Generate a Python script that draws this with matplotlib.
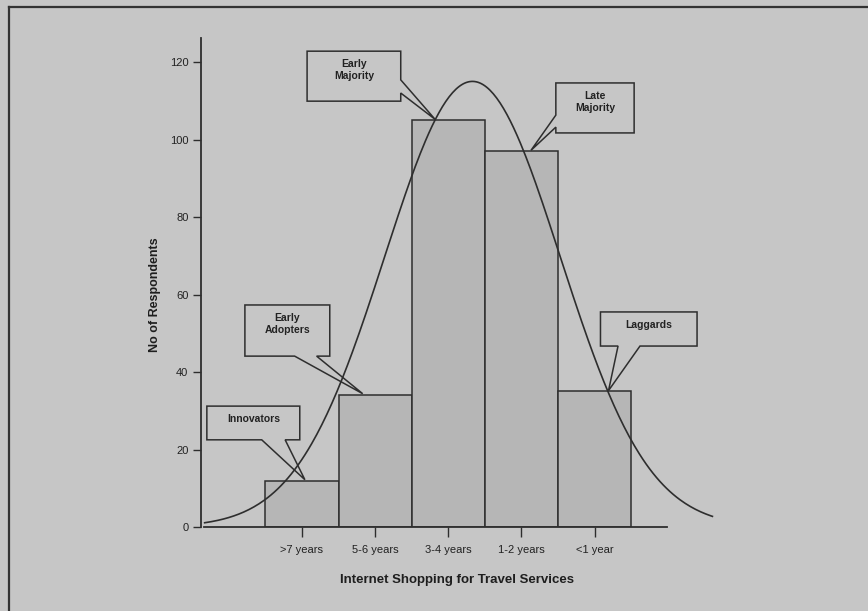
import numpy as np
import matplotlib.pyplot as plt
from matplotlib.patches import Polygon
from matplotlib.lines import Line2D

plt.rcParams['font.family'] = ['Liberation Sans', 'DejaVu Sans']

# adoption groups by how long respondents have shopped online for travel
periods = ['>7 years', '5-6 years', '3-4 years', '1-2 years', '<1 year']
respondents = [12, 34, 105, 97, 35]

# fitted normal curve (in bar-index units)
curve_mean = 2.33
curve_sd = 1.2
curve_peak = 115
curve_from, curve_to = -1.33, 5.61

bg = '#c6c6c6'
ink = '#2e2e2e'

fig = plt.figure(figsize=(8.68, 6.11), dpi=100, facecolor=bg)
W, H = 868, 611
xmin, xmax = -1.38, 5.70
ymin, ymax = 0, 126.2
ax = fig.add_axes([201 / W, 84 / H, 518 / W, 489 / H])
ax.set_facecolor(bg)
ax.set_xlim(xmin, xmax)
ax.set_ylim(ymin, ymax)

x = np.arange(len(periods))
ax.bar(x, respondents, width=1.0, color='#b6b6b6', edgecolor=ink,
       linewidth=1.1, zorder=2)

xs = np.linspace(curve_from, curve_to, 300)
ys = curve_peak * np.exp(-(xs - curve_mean) ** 2 / (2 * curve_sd ** 2))
ax.plot(xs, ys, color=ink, lw=1.2, zorder=4)

for side in ('top', 'right'):
    ax.spines[side].set_visible(False)
ax.spines['left'].set_bounds(0, ymax)
ax.spines['bottom'].set_bounds(xmin + 0.04, 4.99)
for side in ('left', 'bottom'):
    ax.spines[side].set_color(ink)
    ax.spines[side].set_linewidth(1.3)

ax.set_yticks(range(0, 121, 20))
ax.set_xticks(x)
ax.set_xticklabels(periods)
ax.tick_params(axis='y', length=6, width=1, color=ink, pad=3,
               labelsize=8, labelcolor='#222222')
ax.tick_params(axis='x', length=7, width=1, color=ink, pad=6,
               labelsize=8, labelcolor='#222222')

fig.text(155 / W, 1 - 295 / H, 'No of Respondents', rotation=90,
         ha='center', va='center', fontsize=9, fontweight='bold', color='#1e1e1e')
fig.text(457 / W, 1 - 580 / H, 'Internet Shopping for Travel Services',
         ha='center', va='center', fontsize=9.5, fontweight='bold', color='#1e1e1e')


def callout(text, x0, x1, y0, y1, side, base, tip):
    # rectangle with a wedge pointer leaving from one edge
    b0, b1 = base
    if side == 'bottom':
        pts = [(x0, y1), (x1, y1), (x1, y0), (b1, y0), tip, (b0, y0), (x0, y0)]
    elif side == 'right':
        pts = [(x0, y1), (x1, y1), (x1, b0), tip, (x1, b1), (x1, y0), (x0, y0)]
    else:  # left
        pts = [(x0, y1), (x1, y1), (x1, y0), (x0, y0), (x0, b1), tip, (x0, b0)]
    ax.add_patch(Polygon(pts, closed=True, facecolor=bg, edgecolor=ink,
                         lw=1.1, zorder=3, clip_on=False))
    ax.text((x0 + x1) / 2, y1 - (y1 - y0) * 0.38, text, ha='center',
            va='center', fontsize=7.5, fontweight='bold', color='#222222',
            linespacing=1.25, zorder=5)


callout('Innovators', -1.30, -0.03, 22.5, 31.2, 'bottom', (-0.55, -0.23), (0.04, 12.2))
callout('Early\nAdopters', -0.78, 0.38, 44.1, 57.3, 'bottom', (-0.10, 0.20), (0.83, 34.4))
callout('Early\nMajority', 0.07, 1.35, 109.9, 122.8, 'right', (115.4, 112.0), (1.82, 105.2))
callout('Late\nMajority', 3.47, 4.54, 101.7, 114.6, 'left', (106.3, 103.2), (3.13, 97.2))
callout('Laggards', 4.08, 5.40, 46.7, 55.5, 'bottom', (4.32, 4.62), (4.19, 35.2))

# outer frame (left and top edges)
fig.add_artist(Line2D([9 / W, 9 / W], [0, 1 - 7 / H], color='#333333', lw=1.6))
fig.add_artist(Line2D([9 / W, 1], [1 - 7 / H, 1 - 7 / H], color='#333333', lw=1.6))

fig.savefig('out.png', dpi=100, facecolor=bg)
